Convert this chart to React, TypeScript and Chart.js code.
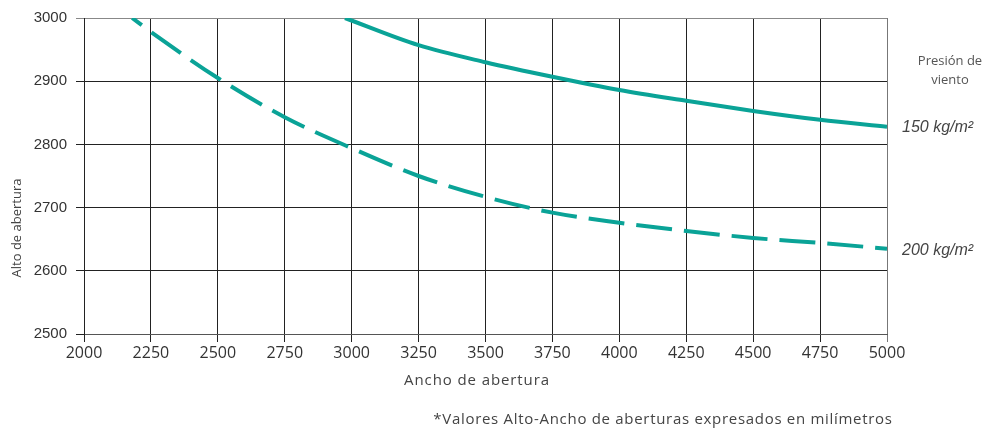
import React, { useEffect, useRef } from "react";
import { Chart, registerables } from "chart.js";

Chart.register(...registerables);

const xTicks = [2000, 2250, 2500, 2750, 3000, 3250, 3500, 3750, 4000, 4250, 4500, 4750, 5000];
const yTicks = [2500, 2600, 2700, 2800, 2900, 3000];

const anchoP150 = [2975, 3250, 3500, 3750, 4000, 4250, 4500, 4750, 5000];
const altoP150 = [3000, 2957, 2930, 2907, 2886, 2869, 2853, 2839, 2828];

const anchoP200 = [2180, 2250, 2500, 2750, 3000, 3250, 3500, 3750, 4000, 4250, 4500, 4750, 5000];
const altoP200 = [3000, 2978, 2905, 2843, 2794, 2750, 2717, 2692, 2676, 2663, 2652, 2644, 2635];

const seriesLabels = ["150 kg/m²", "200 kg/m²"];
const legendTitle = ["Presión de", "viento"];
const xTitle = "Ancho de abertura";
const yTitle = "Alto de abertura";
const footnote = "*Valores Alto-Ancho de aberturas expresados en milímetros";

const TEAL = "#0aa397";

const textPlugin = {
  id: "customText",
  afterDraw(chart: any) {
    const ctx = chart.ctx;
    const ys = chart.scales.y;
    ctx.save();
    // legend title
    ctx.fillStyle = "#555";
    ctx.font = "13px 'Open Sans'";
    ctx.textAlign = "center";
    ctx.textBaseline = "middle";
    ctx.fillText(legendTitle[0], 950, 61);
    ctx.fillText(legendTitle[1], 950, 80);
    // series labels at line ends
    ctx.fillStyle = "#444";
    ctx.font = "italic 16px 'Liberation Sans'";
    ctx.textAlign = "left";
    ctx.fillText(seriesLabels[0], 902, ys.getPixelForValue(altoP150[altoP150.length - 1]) + 1);
    ctx.fillText(seriesLabels[1], 902, ys.getPixelForValue(altoP200[altoP200.length - 1]) + 2);
    // axis titles
    ctx.fillStyle = "#444";
    ctx.font = "15px 'Open Sans'";
    ctx.textAlign = "left";
    (ctx as any).letterSpacing = "0.9px";
    const wx = ctx.measureText(xTitle).width;
    ctx.fillText(xTitle, 477 - wx / 2, 381);
    (ctx as any).letterSpacing = "0px";
    ctx.save();
    ctx.translate(17, 228);
    ctx.rotate(-Math.PI / 2);
    ctx.textAlign = "center";
    ctx.font = "13px 'Open Sans'";
    ctx.fillText(yTitle, 0, 0);
    ctx.restore();
    // footnote
    ctx.font = "15px 'Open Sans'";
    ctx.fillStyle = "#444";
    ctx.textAlign = "left";
    (ctx as any).letterSpacing = "0.7px";
    const wf = ctx.measureText(footnote).width;
    ctx.fillText(footnote, 663 - wf / 2, 420);
    (ctx as any).letterSpacing = "0px";
    ctx.restore();
  },
};

export default function App() {
  const ref = useRef<HTMLCanvasElement>(null);
  useEffect(() => {
    if (!ref.current) return;
    const chart = new Chart(ref.current, {
      type: "line",
      data: {
        datasets: [
          {
            label: seriesLabels[0],
            data: anchoP150.map((x, i) => ({ x, y: altoP150[i] })),
            borderColor: TEAL,
            borderWidth: 4,
            pointRadius: 0,
            cubicInterpolationMode: "monotone",
            fill: false,
          },
          {
            label: seriesLabels[1],
            data: anchoP200.map((x, i) => ({ x, y: altoP200[i] })),
            borderColor: TEAL,
            borderWidth: 4,
            borderDash: [36, 12],
            borderDashOffset: 24,
            borderCapStyle: "butt",
            pointRadius: 0,
            cubicInterpolationMode: "monotone",
            fill: false,
          },
        ],
      },
      options: {
        animation: false,
        responsive: false,
        maintainAspectRatio: false,
        layout: { padding: { top: 18, right: 117, left: 0, bottom: 0 } },
        plugins: { legend: { display: false }, tooltip: { enabled: false } },
        scales: {
          x: {
            type: "linear",
            min: 2000,
            max: 5000,
            afterBuildTicks: (s: any) => {
              s.ticks = xTicks.map((v) => ({ value: v }));
            },
            afterFit: (s: any) => {
              s.height = 96;
            },
            grid: {
              color: (c: any) => (c.tick && c.tick.value === 5000 ? "#777" : "#222"),
              lineWidth: 1,
              tickLength: 8,
            },
            border: { color: "#555", width: 1 },
            ticks: {
              color: "#333",
              font: { family: "'Open Sans'", size: 16 },
              padding: 2,
              maxRotation: 0,
              autoSkip: false,
              callback: (v: any) => String(v),
            },
          },
          y: {
            type: "linear",
            min: 2500,
            max: 3000,
            afterBuildTicks: (s: any) => {
              s.ticks = yTicks.map((v) => ({ value: v }));
            },
            afterFit: (s: any) => {
              s.width = 84;
            },
            grid: {
              color: (c: any) => (c.tick && c.tick.value === 3000 ? "#888" : "#222"),
              lineWidth: 1,
              tickLength: 8,
            },
            border: { color: "#222", width: 1 },
            ticks: {
              color: "#333",
              font: { family: "'Liberation Sans'", size: 15 },
              padding: 9,
              autoSkip: false,
              callback: (v: any) => String(v),
            },
          },
        },
      },
      plugins: [textPlugin],
    } as any);
    return () => chart.destroy();
  }, []);
  return (
    <div style={{ position: "absolute", left: 0, top: 0, width: 1004, height: 430, background: "#fff" }}>
      <canvas ref={ref} width={1004} height={430} style={{ display: "block" }} />
    </div>
  );
}
